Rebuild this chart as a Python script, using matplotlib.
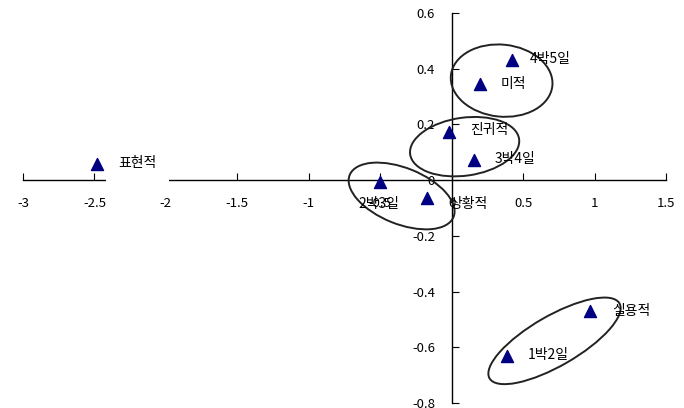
import numpy as np
import matplotlib
matplotlib.use("Agg")
import matplotlib.pyplot as plt
from matplotlib.patches import Ellipse
from matplotlib.transforms import ScaledTranslation

plt.rcParams['font.family'] = ['Noto Sans CJK KR', 'DejaVu Sans']
plt.rcParams['axes.unicode_minus'] = True

# data
names = ["표현적", "4박5일", "미적", "진귀적", "3박4일", "2박3일", "상황적", "실용적", "1박2일"]
xs = [-2.48, 0.42, 0.20, -0.02, 0.155, -0.50, -0.17, 0.965, 0.39]
ys = [0.057, 0.43, 0.345, 0.173, 0.071, -0.006, -0.064, -0.47, -0.63]
# label offsets in pixels (dx, dy)
offs = [(21, 1), (18, 1), (20, 0), (21, 2), (21, 1), (-22, -22), (22, -6), (23, 0), (20, 1)]

xticks = [-3, -2.5, -2, -1.5, -1, -0.5, 0, 0.5, 1, 1.5]
xticklabels = ["-3", "-2.5", "-2", "-1.5", "-1", "-0.5", "0", "0.5", "1", "1.5"]
yticks = [-0.8, -0.6, -0.4, -0.2, 0, 0.2, 0.4, 0.6]
yticklabels = ["-0.8", "-0.6", "-0.4", "-0.2", "0", "0.2", "0.4", "0.6"]

# group ellipses: center (data), width/height (inches), angle (deg)
ell_cx = [0.350, 0.091, -0.350, 0.720]
ell_cy = [0.357, 0.120, -0.057, -0.577]
ell_w = [1.02, 1.10, 1.12, 1.50]
ell_h = [0.72, 0.58, 0.56, 0.50]
ell_a = [-6, 8, -22, 30]

fig = plt.figure(figsize=(6.84, 4.08), dpi=100)
ax = fig.add_axes([0.0336, 0.0123, 0.940, 0.956])
ax.set_xlim(-3, 1.5)
ax.set_ylim(-0.8, 0.6)

ax.spines['left'].set_position(('data', 0))
ax.spines['bottom'].set_position(('data', 0))
ax.spines['top'].set_visible(False)
ax.spines['right'].set_visible(False)
ax.spines['left'].set_linewidth(1.0)
ax.spines['bottom'].set_linewidth(1.0)

ax.set_xticks(xticks)
ax.set_xticklabels(xticklabels)
ax.set_yticks(yticks)
ax.set_yticklabels(yticklabels)
ax.tick_params(axis='x', direction='in', length=5, pad=12, labelsize=9.5)
ax.tick_params(axis='y', direction='in', length=5, pad=12, labelsize=9.5)

ax.scatter(xs, ys, marker='^', s=75, color='#000080', zorder=4, clip_on=False)

for i, n in enumerate(names):
    kw = {}
    if n == "표현적":
        kw['bbox'] = dict(boxstyle='square,pad=0.9', fc='white', ec='none')
    ax.annotate(n, (xs[i], ys[i]), xytext=offs[i], textcoords='offset pixels',
                fontsize=10, va='center', ha='left', zorder=5, **kw)

for i in range(len(ell_cx)):
    tr = fig.dpi_scale_trans + ScaledTranslation(ell_cx[i], ell_cy[i], ax.transData)
    e = Ellipse((0, 0), ell_w[i], ell_h[i], angle=ell_a[i], transform=tr,
                fill=False, ec='#222222', lw=1.4, zorder=3)
    ax.add_patch(e)

fig.savefig("out.png", dpi=100)
